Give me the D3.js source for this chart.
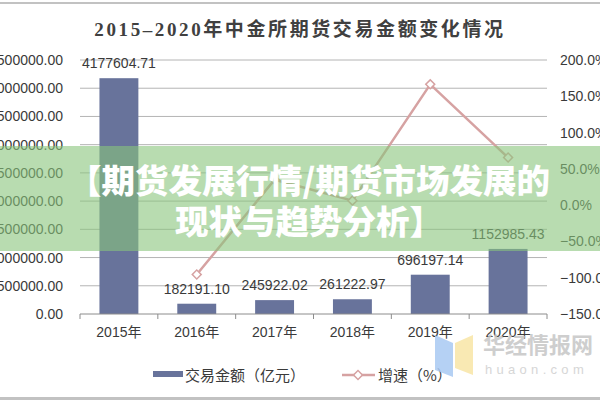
<script src="https://d3js.org/d3.v7.min.js"></script>
<style>
  body { margin: 0; background: #fff; }
  svg text { font-family: "Liberation Sans", Arial, "Noto Sans CJK SC", sans-serif; }
</style>
<svg width="600" height="400"></svg>
<script>
    var years = ["2015年", "2016年", "2017年", "2018年", "2019年", "2020年"];
    var amounts = [4177604.71, 182191.10, 245922.02, 261222.97, 696197.14, 1152985.43];
    var growth = [null, -95.6, 35.0, 6.2, 166.5, 65.6];
    var leftTicks = [0, 500000, 1000000, 1500000, 2000000, 2500000, 3000000, 3500000, 4000000, 4500000];
    var rightTicks = [-150, -100, -50, 0, 50, 100, 150, 200];

    var svg = d3.select("svg"),
        margin = {top: 60, right: 53, bottom: 86, left: 80},
        width = 600 - margin.left - margin.right,
        height = 400 - margin.top - margin.bottom;

    var barColor = "#68739b",
        lineColor = "#d6a2a2",
        textColor = "#3a3a3a";

    // frame lines
    svg.append("rect").attr("x", 0).attr("y", 2).attr("width", 600).attr("height", 2).attr("fill", "#c2c2c2");
    svg.append("rect").attr("x", 0).attr("y", 397).attr("width", 600).attr("height", 3).attr("fill", "#c2c2c2");

    svg.append("text")
        .attr("x", 300).attr("y", 36)
        .attr("text-anchor", "middle")
        .style("font-family", "'Liberation Serif', 'Noto Sans CJK SC', serif")
        .style("font-size", "19px")
        .style("font-weight", "bold")
        .style("letter-spacing", "2.6px")
        .attr("fill", "#404040")
        .text("2015–2020年中金所期货交易金额变化情况");

    var g = svg.append("g").attr("transform", "translate(" + margin.left + "," + margin.top + ")");

    var x = d3.scaleBand().domain(years).range([0, width]).paddingInner(0.5).paddingOuter(0.25);
    var y = d3.scaleLinear().domain([0, 4500000]).range([height, 0]);
    var y2 = d3.scaleLinear().domain([-150, 200]).range([height, 0]);

    // gridlines
    g.selectAll(".grid")
        .data(leftTicks.slice(1))
        .enter().append("line")
        .attr("x1", 0).attr("x2", width)
        .attr("y1", function(d) { return y(d); })
        .attr("y2", function(d) { return y(d); })
        .attr("stroke", "#b4b4b4").attr("stroke-width", 1);

    // left axis labels
    g.selectAll(".ylab")
        .data(leftTicks)
        .enter().append("text")
        .attr("x", -17)
        .attr("y", function(d) { return y(d) + 5; })
        .attr("text-anchor", "end")
        .style("font-size", "14px")
        .attr("fill", textColor)
        .text(function(d) { return d3.format(".2f")(d); });

    // right axis labels
    g.selectAll(".y2lab")
        .data(rightTicks)
        .enter().append("text")
        .attr("x", width + 13)
        .attr("y", function(d) { return y2(d) + 5; })
        .style("font-size", "14px")
        .attr("fill", textColor)
        .text(function(d) { return d3.format(".1f")(d) + "%"; });

    // bars
    g.selectAll(".bar")
        .data(amounts)
        .enter().append("rect")
        .attr("x", function(d, i) { return x(years[i]); })
        .attr("y", function(d) { return y(d); })
        .attr("width", x.bandwidth())
        .attr("height", function(d) { return height - y(d); })
        .attr("fill", barColor);

    // baseline and category ticks
    g.append("line").attr("x1", 0).attr("x2", width).attr("y1", height).attr("y2", height)
        .attr("stroke", "#8c8c8c").attr("stroke-width", 1);
    g.selectAll(".tick")
        .data(d3.range(years.length + 1))
        .enter().append("line")
        .attr("x1", function(i) { return i * x.step(); })
        .attr("x2", function(i) { return i * x.step(); })
        .attr("y1", height).attr("y2", height + 5)
        .attr("stroke", "#8c8c8c");

    g.selectAll(".xlab")
        .data(years)
        .enter().append("text")
        .attr("x", function(d) { return x(d) + x.bandwidth() / 2; })
        .attr("y", height + 23)
        .attr("text-anchor", "middle")
        .style("font-size", "14px")
        .attr("fill", textColor)
        .text(function(d) { return d; });

    // growth line
    var pts = growth.map(function(v, i) { return {v: v, k: years[i]}; }).filter(function(d) { return d.v !== null; });
    var line = d3.line()
        .x(function(d) { return x(d.k) + x.bandwidth() / 2; })
        .y(function(d) { return y2(d.v); });
    g.append("path").datum(pts)
        .attr("d", line)
        .attr("fill", "none")
        .attr("stroke", lineColor)
        .attr("stroke-width", 2.5);
    g.selectAll(".mark")
        .data(pts)
        .enter().append("path")
        .attr("d", d3.symbol(d3.symbolSquare, 40))
        .attr("transform", function(d) { return "translate(" + (x(d.k) + x.bandwidth() / 2) + "," + y2(d.v) + ") rotate(45)"; })
        .attr("fill", "#fff")
        .attr("stroke", lineColor)
        .attr("stroke-width", 1.5);

    // bar value labels
    g.selectAll(".vlab")
        .data(amounts)
        .enter().append("text")
        .attr("x", function(d, i) { return x(years[i]) + x.bandwidth() / 2; })
        .attr("y", function(d) { return y(d) - 10; })
        .attr("text-anchor", "middle")
        .style("font-size", "14px")
        .attr("fill", textColor)
        .text(function(d) { return d3.format(".2f")(d); });

    // overlay banner
    svg.append("rect")
        .attr("x", 0).attr("y", 146).attr("width", 600).attr("height", 105)
        .attr("fill", "rgb(137,197,123)").attr("opacity", 0.6);
    var banner = ["【期货发展行情/期货市场发展的", "现状与趋势分析】"];
    svg.selectAll(".banner")
        .data(banner)
        .enter().append("text")
        .attr("x", 309)
        .attr("y", function(d, i) { return 193 + i * 41; })
        .attr("text-anchor", "middle")
        .style("font-family", "'Noto Sans CJK SC', sans-serif")
        .style("font-size", "33.5px")
        .style("font-weight", "900")
        .attr("fill", "#fff")
        .text(function(d) { return d; });

    // legend
    svg.append("rect").attr("x", 153).attr("y", 371).attr("width", 30).attr("height", 6).attr("fill", barColor);
    svg.append("text").attr("x", 185).attr("y", 381)
        .style("font-family", "'Noto Sans CJK SC', sans-serif")
        .style("font-size", "15px").attr("fill", textColor)
        .text("交易金额（亿元）");
    svg.append("line").attr("x1", 342).attr("x2", 375).attr("y1", 375).attr("y2", 375)
        .attr("stroke", lineColor).attr("stroke-width", 2.5);
    svg.append("path")
        .attr("d", d3.symbol(d3.symbolSquare, 40))
        .attr("transform", "translate(358,375) rotate(45)")
        .attr("fill", "#fff").attr("stroke", lineColor).attr("stroke-width", 1.5);
    svg.append("text").attr("x", 378).attr("y", 381)
        .style("font-family", "'Noto Sans CJK SC', sans-serif")
        .style("font-size", "15px").attr("fill", textColor)
        .text("增速（%）");

    // watermark
    var wm = svg.append("g").attr("opacity", 0.85);
    wm.append("path").attr("d", "M435,335 L453,343 L453,377 L435,370 Z").attr("fill", "#a9c9f3");
    wm.append("path").attr("d", "M455,343 L473,335 L473,375 L455,368 Z").attr("fill", "#f9e6a6");
    wm.append("text").attr("x", 483).attr("y", 353)
        .style("font-family", "'Noto Sans CJK SC', sans-serif")
        .style("font-size", "22px").style("font-weight", "bold")
        .attr("fill", "#c6c6c6")
        .text("华经情报网");
    wm.append("text").attr("x", 485).attr("y", 374)
        .style("font-size", "13px")
        .style("letter-spacing", "4.3px")
        .attr("fill", "#d0d0d0")
        .text("huaon.com");
</script>
